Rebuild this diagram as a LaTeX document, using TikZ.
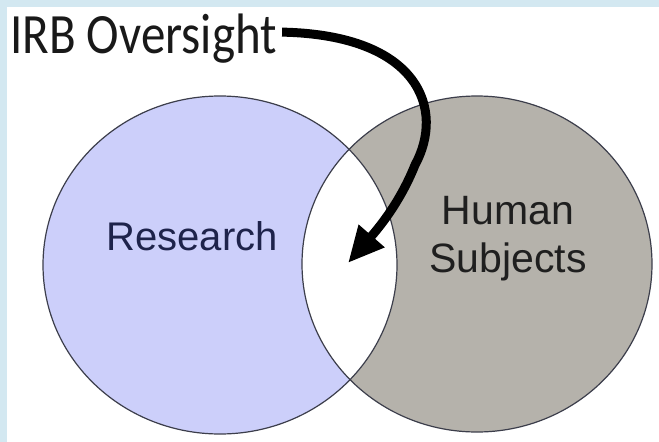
\documentclass[tikz,border=0pt]{standalone}
\usepackage{fontspec}
\usepackage{graphicx}
\usetikzlibrary{arrows.meta}

\newfontfamily\calfont{Carlito}
\newfontfamily\arialfont{Liberation Sans}

\definecolor{frameblue}{RGB}{211,232,241}
\definecolor{researchfill}{RGB}{204,207,250}
\definecolor{humanfill}{RGB}{181,178,171}
\definecolor{edgegray}{RGB}{60,62,75}
\definecolor{navytext}{RGB}{30,35,75}

\begin{document}
\begin{tikzpicture}[x=1pt,y=-1pt]
\useasboundingbox (0,0) rectangle (659,442);
% frame
\fill[white] (0,0) rectangle (659,442);
\fill[frameblue] (0,0) rectangle (659,7);
\fill[frameblue] (0,0) rectangle (7,442);

% circles
\fill[researchfill] (220,265) ellipse [x radius=177, y radius=169];
\fill[humanfill] (477,264) ellipse [x radius=175, y radius=168];
% overlap
\begin{scope}
  \clip (220,265) ellipse [x radius=177, y radius=169];
  \fill[white] (477,264) ellipse [x radius=175, y radius=168];
\end{scope}
\draw[edgegray, line width=1.2] (220,265) ellipse [x radius=177, y radius=169];
\draw[edgegray, line width=1.2] (477,264) ellipse [x radius=175, y radius=168];

% labels
\node[anchor=base west, inner sep=0, text=black!90] (irb) at (10,53)
  {\calfont\fontsize{57}{60}\selectfont\scalebox{0.86}[1]{IRB Oversight}};
\node[anchor=base, inner sep=0, text=navytext,
  font=\arialfont\fontsize{40}{48}\selectfont] (research) at (192,250) {Research};
\node[align=center, inner sep=0, text=black!88,
  font=\arialfont\fontsize{41}{48}\selectfont] (human) at (508,238.6) {Human\\Subjects};

% arrow
\coordinate (lens) at (348,263);
\draw[line width=9, -{Triangle[length=36pt,width=32pt]}]
  ([xshift=5pt,yshift=6pt]irb.east) .. controls (420,35) and (445,110) .. (415,165)
  .. controls (405,190) and (390,215) .. (lens);
\end{tikzpicture}
\end{document}
